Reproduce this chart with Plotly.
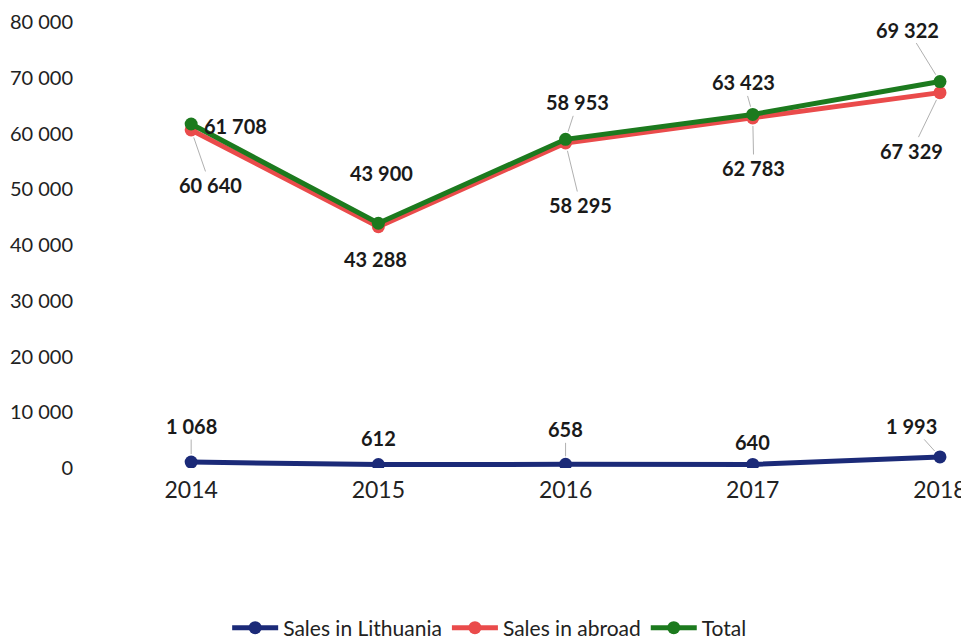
import plotly.graph_objects as go

years = [2014, 2015, 2016, 2017, 2018]
sales_lithuania = [1068, 612, 658, 640, 1993]
sales_abroad = [60640, 43288, 58295, 62783, 67329]
total = [61708, 43900, 58953, 63423, 69322]

y_ticks = [0, 10000, 20000, 30000, 40000, 50000, 60000, 70000, 80000]

FONT = "Lato"
NAVY = "#1B2A78"
RED = "#EA4B4B"
GREEN = "#1C7A1E"


def fmt(v):
    return f"{v:,}".replace(",", " ")


fig = go.Figure()
for name, vals, color in [
    ("Sales in Lithuania", sales_lithuania, NAVY),
    ("Sales in abroad", sales_abroad, RED),
    ("Total", total, GREEN),
]:
    fig.add_scatter(
        x=years,
        y=vals,
        name=name,
        mode="lines+markers",
        line=dict(color=color, width=5),
        marker=dict(color=color, size=13),
    )

# label offsets (px) and whether a leader line is drawn
offsets_lt = [(0, -36, True), (0, -27, False), (0, -35, True), (0, -22, False), (-28, -31, True)]
offsets_ab = [(19, 55, True), (-3, 32, False), (15, 62, True), (1, 50, True), (-28, 58, True)]
offsets_tt = [(44, 2, False), (3, -50, False), (12, -37, True), (-9, -32, True), (-32, -52, True)]

annotations = []
for vals, offs in [(sales_lithuania, offsets_lt), (sales_abroad, offsets_ab), (total, offsets_tt)]:
    for yr, v, (ax, ay, leader) in zip(years, vals, offs):
        ann = dict(
            x=yr, y=v, xref="x", yref="y", text="<b>" + fmt(v) + "</b>",
            font=dict(family=FONT, size=20, color="#1A1A1A"),
        )
        if leader:
            ann.update(showarrow=True, arrowhead=0, arrowwidth=1, arrowcolor="#B0B0B0",
                       standoff=8, ax=ax, ay=ay)
        else:
            ann.update(showarrow=False, xshift=ax, yshift=-ay)
        annotations.append(ann)

fig.update_layout(
    width=961,
    height=634,
    margin=dict(l=89, r=9, t=14, b=174),
    paper_bgcolor="white",
    plot_bgcolor="white",
    separators=", ",
    font=dict(family=FONT, size=20, color="#222222"),
    annotations=annotations,
    showlegend=True,
    legend=dict(
        orientation="h", x=0.455, xanchor="center",
        yref="container", y=0.022, yanchor="middle",
        font=dict(family=FONT, size=21, color="#222222"),
        itemwidth=46,
    ),
    xaxis=dict(
        type="linear", range=[2013.497, 2018.107], tickvals=years,
        ticktext=[str(y) for y in years], showgrid=False, zeroline=False,
        showline=False, ticks="", tickfont=dict(size=23), ticklabelstandoff=6,
        automargin=False, ticklabeloverflow="allow",
    ),
    yaxis=dict(
        range=[0, 80000], tickvals=y_ticks, tickformat=",d", showgrid=False,
        zeroline=False, showline=False, ticks="", ticklabelstandoff=23,
        tickfont=dict(size=20), automargin=False, ticklabeloverflow="allow",
    ),
)

fig.write_html("out.html")
